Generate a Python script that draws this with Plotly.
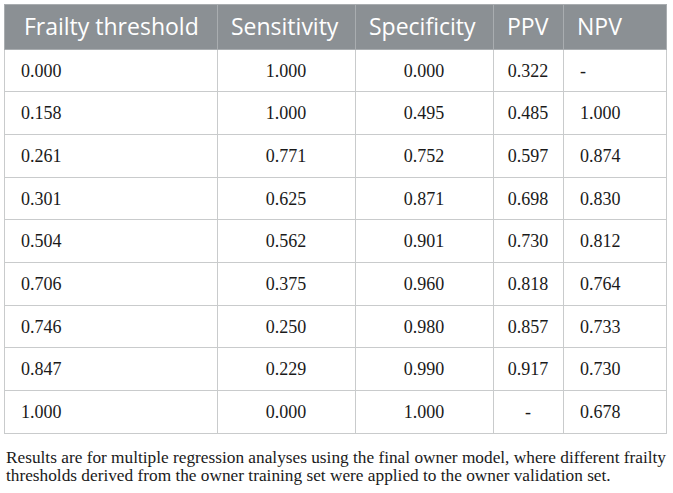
import plotly.graph_objects as go

# -------------------
# Table data
# -------------------
header_labels = ["Frailty threshold", "Sensitivity", "Specificity", "PPV", "NPV"]

thresholds = ["0.000", "0.158", "0.261", "0.301", "0.504", "0.706", "0.746", "0.847", "1.000"]
sensitivity = ["1.000", "1.000", "0.771", "0.625", "0.562", "0.375", "0.250", "0.229", "0.000"]
specificity = ["0.000", "0.495", "0.752", "0.871", "0.901", "0.960", "0.980", "0.990", "1.000"]
ppv = ["0.322", "0.485", "0.597", "0.698", "0.730", "0.818", "0.857", "0.917", "-"]
npv = ["-", "1.000", "0.874", "0.830", "0.812", "0.764", "0.733", "0.730", "0.678"]

footnote_lines = [
    "Results are for multiple regression analyses using the final owner model, where different frailty",
    "thresholds derived from the owner training set were applied to the owner validation set.",
]

# -------------------
# Layout params
# -------------------
W, H = 673, 493
HEADER_FILL = "#8b9094"
GRID = "#c9cbcc"
SANS = "Open Sans"
SERIF = "Liberation Serif"

col_widths = [213, 138, 138, 70, 103]
nb = "\u00a0"

fig = go.Figure(
    go.Table(
        columnwidth=col_widths,
        header=dict(
            values=header_labels,
            prefix=[nb, nb, nb, nb, nb],
            fill_color=HEADER_FILL,
            line=dict(color="#a9adb0", width=1),
            font=dict(family=SANS, size=23, color="white"),
            align="left",
            height=45,
        ),
        cells=dict(
            values=[thresholds, sensitivity, specificity, ppv, npv],
            prefix=[nb * 2, "", "", "", nb * 2],
            fill_color="white",
            line=dict(color=GRID, width=1),
            font=dict(family=SERIF, size=18, color="#1a1a1a"),
            align=["left", "center", "center", "center", "left"],
            height=42.7,
        ),
        domain=dict(x=[4 / W, 666 / W], y=[0, 1 - 4 / H]),
    )
)

# footnote below the table
for i, line in enumerate(footnote_lines):
    fig.add_annotation(
        text=line,
        x=4 / W,
        y=1 - (457 + 18.5 * i) / H,
        xref="paper",
        yref="paper",
        xanchor="left",
        yanchor="middle",
        showarrow=False,
        font=dict(family=SERIF, size=17.3, color="#1a1a1a"),
    )

fig.update_layout(
    width=W,
    height=H,
    margin=dict(l=0, r=0, t=0, b=0),
    paper_bgcolor="white",
    plot_bgcolor="white",
)

# no page margin; nudge the table text down so it sits mid-row like the original
page_js = (
    "document.body.style.margin = '0';"
    "var s = document.createElement('style');"
    "s.textContent = '.cell-text { transform: translateY(6px); }';"
    "document.head.appendChild(s);"
)

fig.write_html(
    "out.html",
    config={"displayModeBar": False},
    post_script=page_js,
)
